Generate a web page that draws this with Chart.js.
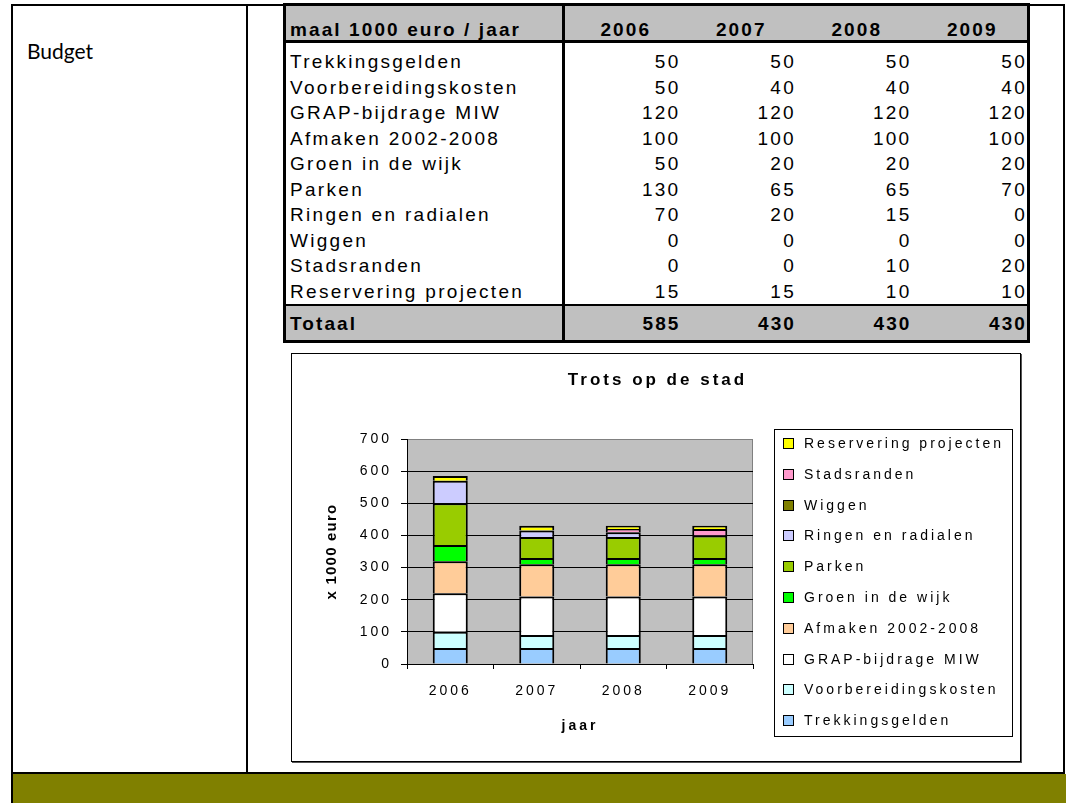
<!DOCTYPE html>
<html>
<head>
<meta charset="utf-8">
<title>Trots op de stad</title>
<script src="https://cdn.jsdelivr.net/npm/chart.js@4.4.1/dist/chart.umd.min.js"></script>
<style>
  html, body { margin: 0; padding: 0; background: #fff; overflow: hidden; }
  body { width: 1075px; height: 803px; position: relative; font-family: "Liberation Sans", Arial, sans-serif; color: #000; }
  .abs { position: absolute; box-sizing: border-box; }
  #frame { left: 11px; top: 4px; width: 1054px; height: 770px; border: 2px solid #000; }
  #divider { left: 246px; top: 4px; width: 2px; height: 770px; background: #000; }
  #band { left: 11px; top: 774px; width: 1055px; height: 29px; background: #808000; border-left: 2px solid #000; }
  #budget { left: 27px; top: 39px; font-family: Lato, "Open Sans", sans-serif; font-size: 21px; line-height: 24px; }

  #budgetTable { left: 283px; top: 3px; width: 747px; border: 3px solid #000; font-size: 19px; letter-spacing: 2.3px; }
  .row { display: flex; }
  .row > div { box-sizing: border-box; white-space: nowrap; }
  .lab { width: 279px; border-right: 3px solid #000; padding-left: 4px; }
  .num { flex: 1; text-align: right; padding-right: 0; }
  .head { height: 34px; background: #c0c0c0; border-bottom: 3px solid #000; font-weight: bold; letter-spacing: 2.1px; }
  .head > div { padding-top: 13px; line-height: 21px; }
  .head .num { text-align: center; padding-left: 6px; }
  .spacer { height: 6px; }
  .body { height: 25.5px; line-height: 25.5px; }
  .total { height: 34px; background: #c0c0c0; border-top: 2px solid #000; font-weight: bold; letter-spacing: 2.1px; }
  .total > div { padding-top: 7.5px; line-height: 20px; }

  #chartBox { left: 291px; top: 353px; width: 730px; height: 409px; border: 1px solid #000; box-shadow: 1px 1px 0 #555; background: #fff; }
  #chartTitle { left: 291px; top: 369.5px; width: 730px; text-align: center; padding-left: 3px; font-weight: bold; font-size: 17px; line-height: 20px; letter-spacing: 3px; }
  #chart { position: absolute; left: 292px; top: 354px; }
</style>
</head>
<body>
<div id="frame" class="abs"></div>
<div id="divider" class="abs"></div>
<div id="band" class="abs"></div>
<div id="budget" class="abs">Budget</div>
<div id="budgetTable" class="abs"></div>
<div id="chartBox" class="abs"></div>
<canvas id="chart" width="728" height="407"></canvas>
<div id="chartTitle" class="abs">Trots op de stad</div>

<script>
// jaren (kolommen van de tabel, categorieën van de grafiek)
const years = ['2006', '2007', '2008', '2009'];

// bedragen maal 1000 euro per jaar
const trekkingsgelden = [50, 50, 50, 50];
const voorbereidingskosten = [50, 40, 40, 40];
const grapBijdrage = [120, 120, 120, 120];
const afmaken = [100, 100, 100, 100];
const groenInDeWijk = [50, 20, 20, 20];
const parken = [130, 65, 65, 70];
const ringenEnRadialen = [70, 20, 15, 0];
const wiggen = [0, 0, 0, 0];
const stadsranden = [0, 0, 10, 20];
const reservering = [15, 15, 10, 10];
const totaal = [585, 430, 430, 430];

const seriesNames = [
  'Trekkingsgelden', 'Voorbereidingskosten', 'GRAP-bijdrage MIW', 'Afmaken 2002-2008',
  'Groen in de wijk', 'Parken', 'Ringen en radialen', 'Wiggen', 'Stadsranden', 'Reservering projecten'
];
const seriesValues = [
  trekkingsgelden, voorbereidingskosten, grapBijdrage, afmaken,
  groenInDeWijk, parken, ringenEnRadialen, wiggen, stadsranden, reservering
];
const seriesColors = [
  '#99ccff', '#ccffff', '#ffffff', '#ffcc99', '#00ff00',
  '#99cc00', '#ccccff', '#808000', '#ff99cc', '#ffff00'
];

// tabel opbouwen
const table = document.getElementById('budgetTable');
function addRow(cls, label, values) {
  const row = document.createElement('div');
  row.className = 'row ' + cls;
  const lab = document.createElement('div');
  lab.className = 'lab';
  lab.textContent = label;
  row.appendChild(lab);
  values.forEach(v => {
    const cell = document.createElement('div');
    cell.className = 'num';
    cell.textContent = v;
    row.appendChild(cell);
  });
  table.appendChild(row);
}
addRow('head', 'maal 1000 euro / jaar', years);
addRow('spacer', '', ['', '', '', '']);
seriesNames.forEach((name, i) => addRow('body', name, seriesValues[i]));
addRow('total', 'Totaal', totaal);

const fontFamily = '"Liberation Sans", Arial, sans-serif';

// grijze plotachtergrond en letterafstand zoals in het origineel
const plotBackground = {
  id: 'plotBackground',
  beforeDraw(chart) {
    const { ctx, chartArea: a } = chart;
    ctx.letterSpacing = '3px';
    const ys = chart.scales.y;
    if (!ys._lsPatched) {
      const orig = ys.drawTitle;
      ys.drawTitle = function () {
        const prev = this.ctx.letterSpacing;
        this.ctx.letterSpacing = '1.2px';
        orig.call(this);
        this.ctx.letterSpacing = prev;
      };
      ys._lsPatched = true;
    }
    ctx.save();
    ctx.fillStyle = '#c0c0c0';
    ctx.fillRect(a.left, a.top, a.right - a.left, a.bottom - a.top);
    ctx.strokeStyle = '#808080';
    ctx.lineWidth = 1;
    ctx.beginPath();
    ctx.moveTo(a.left, a.top + 0.5);
    ctx.lineTo(a.right - 0.5, a.top + 0.5);
    ctx.lineTo(a.right - 0.5, a.bottom);
    ctx.stroke();
    ctx.restore();
  }
};

// legenda in een kader rechts van de grafiek
const boxLegend = {
  id: 'boxLegend',
  afterDraw(chart) {
    const { ctx, chartArea: a } = chart;
    const left = a.right + 21, top = a.top - 10, w = 239, h = 308, step = 30.8;
    ctx.save();
    ctx.letterSpacing = '3px';
    ctx.fillStyle = '#fff';
    ctx.fillRect(left, top, w, h);
    ctx.strokeStyle = '#000';
    ctx.lineWidth = 1;
    ctx.strokeRect(left + 0.5, top + 0.5, w - 1, h - 1);
    ctx.font = '14px ' + fontFamily;
    ctx.textBaseline = 'middle';
    ctx.textAlign = 'left';
    const sets = chart.data.datasets.slice().reverse();
    sets.forEach((ds, i) => {
      const cy = Math.round(top + 14 + i * step);
      ctx.fillStyle = ds.backgroundColor;
      ctx.fillRect(left + 9, cy - 5, 11, 11);
      ctx.strokeStyle = '#000';
      ctx.strokeRect(left + 9.5, cy - 4.5, 10, 10);
      ctx.fillStyle = '#000';
      ctx.fillText(ds.label, left + 30, cy + 1);
    });
    ctx.restore();
  }
};

new Chart(document.getElementById('chart'), {
  type: 'bar',
  data: {
    labels: years,
    datasets: seriesNames.map((name, i) => ({
      label: name,
      data: seriesValues[i],
      backgroundColor: seriesColors[i],
      borderColor: '#000',
      borderWidth: { top: 2, right: 2, bottom: 0, left: 2 },
      borderSkipped: false,
      barPercentage: 0.405,
      categoryPercentage: 1,
      inflateAmount: 0
    }))
  },
  options: {
    responsive: false,
    animation: false,
    devicePixelRatio: 1,
    layout: { padding: { left: 0, right: 267, top: 85, bottom: 0 } },
    plugins: {
      legend: { display: false },
      title: { display: false },
      tooltip: { enabled: false }
    },
    scales: {
      x: {
        stacked: true,
        grid: { drawOnChartArea: false, drawTicks: true, tickLength: 5, color: '#000', offset: true },
        border: { color: '#000', width: 1 },
        ticks: { color: '#000', font: { size: 14, family: fontFamily }, padding: 14 },
        title: {
          display: true, text: 'jaar', color: '#000',
          font: { size: 14, weight: 'bold', family: fontFamily },
          padding: { top: 0, bottom: 26 }
        },
        afterFit(scale) { scale.height = 97; }
      },
      y: {
        stacked: true,
        min: 0,
        max: 700,
        ticks: { stepSize: 100, color: '#000', font: { size: 14, family: fontFamily }, padding: 9 },
        grid: {
          color: c => (c.tick && c.tick.value === 700 ? '#808080' : '#000'),
          tickColor: '#000',
          tickLength: 6,
          lineWidth: 1
        },
        border: { color: '#000', width: 1 },
        title: {
          display: true, text: 'x 1000 euro', color: '#000',
          font: { size: 15, weight: 'bold', family: fontFamily },
          padding: { top: 31, bottom: 0 }
        },
        afterFit(scale) { scale.width = 115; }
      }
    }
  },
  plugins: [plotBackground, boxLegend]
});
</script>
</body>
</html>
